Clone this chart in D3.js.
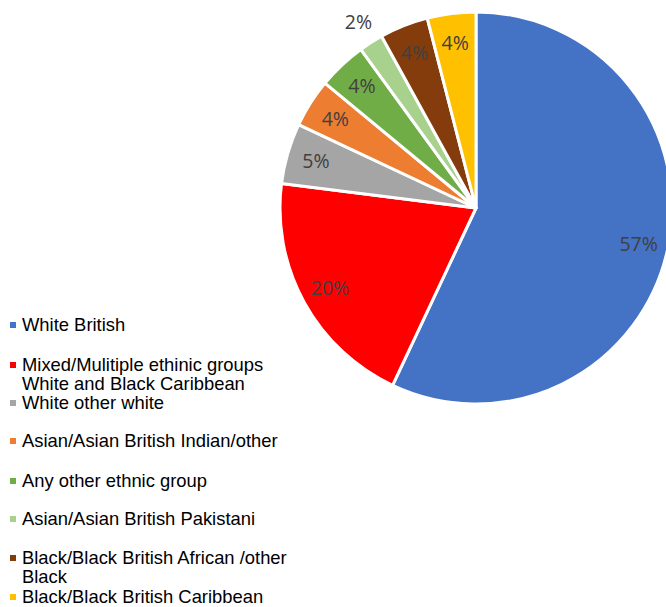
<!DOCTYPE html>
<html>
<head>
<meta charset="utf-8">
<script src="https://cdn.jsdelivr.net/npm/d3@7"></script>
<style>
  body { margin: 0; background: #fff; }
  svg { display: block; }
</style>
</head>
<body>
<script>
const w = 666;
const h = 607;

const categories = [
  "White British",
  "Mixed/Mulitiple ethinic groups White and Black Caribbean",
  "White other white",
  "Asian/Asian British Indian/other",
  "Any other ethnic group",
  "Asian/Asian British Pakistani",
  "Black/Black British African /other Black",
  "Black/Black British Caribbean"
];
// legend text lines as they wrap in the picture
const legendLines = [
  ["White British"],
  ["Mixed/Mulitiple ethinic groups", "White and Black Caribbean"],
  ["White other white"],
  ["Asian/Asian British Indian/other"],
  ["Any other ethnic group"],
  ["Asian/Asian British Pakistani"],
  ["Black/Black British African /other", "Black"],
  ["Black/Black British Caribbean"]
];
const values = [57, 20, 5, 4, 4, 2, 4, 4];
const colors = ["#4472C4", "#FF0000", "#A5A5A5", "#ED7D31", "#70AD47", "#A9D18E", "#843C0C", "#FFC000"];

const cx = 476, cy = 208, r = 196;

const svg = d3.select('body')
  .append('svg')
  .attr('width', w)
  .attr('height', h);

const pie = d3.pie().sort(null).value(d => d);
const arcs = pie(values);

const arc = d3.arc().innerRadius(0).outerRadius(r);
const labelArc = d3.arc().innerRadius(r * 0.85).outerRadius(r * 0.85);
const outerLabelArc = d3.arc().innerRadius(r * 1.12).outerRadius(r * 1.12);

const g = svg.append('g').attr('transform', `translate(${cx},${cy})`);

g.selectAll('path')
  .data(arcs)
  .enter()
  .append('path')
  .attr('d', arc)
  .attr('fill', (d, i) => colors[i])
  .attr('stroke', '#fff')
  .attr('stroke-width', 3)
  .attr('stroke-linejoin', 'round');

// small slices (2%) get their label outside the pie
g.selectAll('text')
  .data(arcs)
  .enter()
  .append('text')
  .attr('transform', d => `translate(${(d.data < 3 ? outerLabelArc : labelArc).centroid(d)})`)
  .attr('text-anchor', 'middle')
  .attr('dy', '0.35em')
  .style('font-family', '"Open Sans", sans-serif')
  .style('font-size', '19.5px')
  .style('fill', '#404040')
  .text(d => d.data + '%');

// legend
const legendY = [325, 365, 403, 441, 481, 519, 558, 597];
const lineH = 19;

const leg = svg.selectAll('g.leg')
  .data(categories)
  .enter()
  .append('g')
  .attr('class', 'leg')
  .attr('transform', (d, i) => `translate(0,${legendY[i]})`);

leg.append('rect')
  .attr('x', 10)
  .attr('y', -3)
  .attr('width', 6)
  .attr('height', 6)
  .attr('fill', (d, i) => colors[i]);

leg.append('text')
  .style('font-family', '"Liberation Sans", Arial, sans-serif')
  .style('font-size', '18.4px')
  .style('fill', '#000')
  .selectAll('tspan')
  .data((d, i) => legendLines[i])
  .enter()
  .append('tspan')
  .attr('x', 22)
  .attr('y', (d, j) => j * lineH)
  .attr('dy', '0.35em')
  .text(d => d);
</script>
</body>
</html>
